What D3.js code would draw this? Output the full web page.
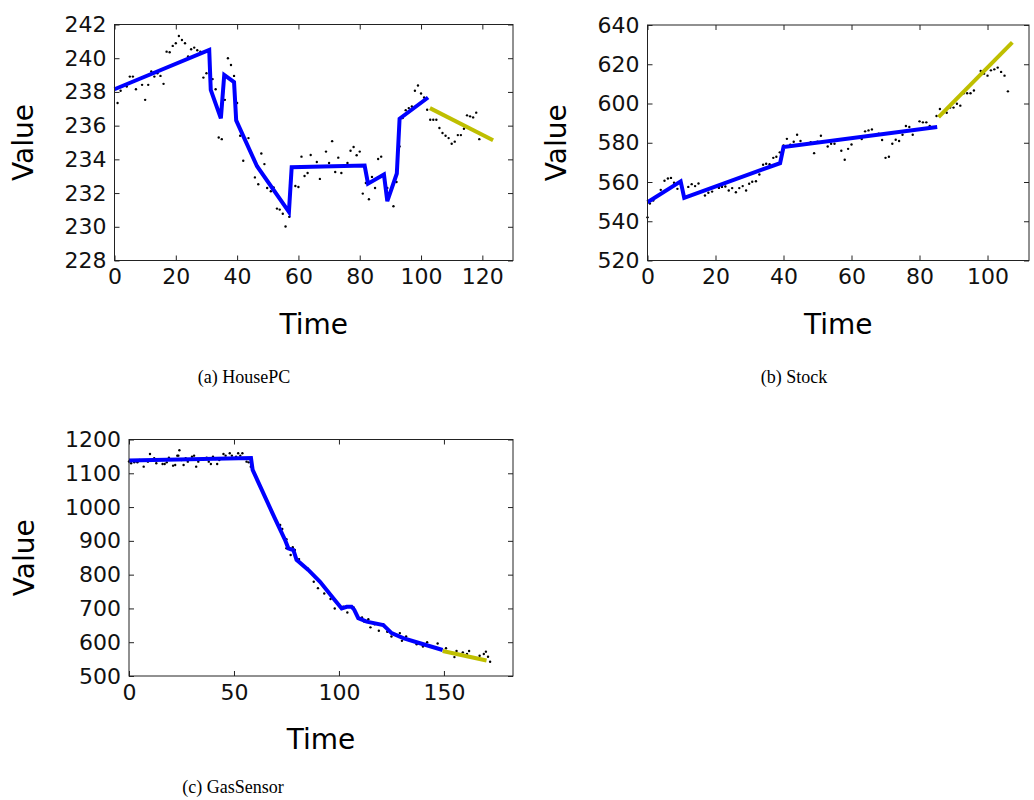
<!DOCTYPE html>
<head>
  <meta charset="utf-8">
  <script src="https://cdn.jsdelivr.net/npm/d3@7"></script>
  <style>
    body { margin:0; background:#fff; }
    .tick text { font-family: "DejaVu Sans", sans-serif; }
  </style>
</head>

<body>
  <script>
    // (a) HousePC
    const houseT = [1,2,4,5,6,7,9,10,11,12,13,14,15,16,17,18,19,20,21,22,23,24,25,26,27,28,29,30,31,32,33,34,35,36,37,38,39,40,41,42,42.6,43.7,45.8,46.9,47.9,48.9,49.8,51,51.9,53,53.9,54.9,55.8,57,59,60,61,62,63,64,66,67,69,70,71,72,73,74,76,77,78,79,80,81,82,83,84,85,86,87,89,91,92,93,94,95,96,97,98,99,100,101,102,103,104,105,106,107,108,109,110,111,112,113,114,115,116,117,118,119];
    const houseV = [237.34,238.07,238.32,238.91,238.91,238.16,238.42,237.53,238.42,239.21,238.91,239.11,238.95,238.48,240.39,240.35,240.73,240.89,241.32,241.08,240.89,240.10,240.53,240.63,240.47,240.39,238.85,239.11,239.27,238.76,238.16,235.30,235.20,237.53,240.0,239.60,238.95,237.34,235.40,233.92,235.26,235.26,232.93,232.52,234.35,233.72,232.30,232.11,232.34,231.08,231.02,230.77,230.02,230.59,232.42,232.36,234.16,233.01,233.19,234.26,233.84,232.84,234.46,233.78,235.08,233.25,234.10,233.19,233.78,234.51,234.73,234.24,234.46,231.97,232.60,231.63,232.96,232.30,234.02,234.16,232.30,231.22,232.66,234.77,236.45,236.92,237.04,237.14,238.07,238.38,237.91,237.67,236.94,236.35,236.35,236.35,235.86,235.56,235.40,235.26,234.93,235.05,235.44,235.44,235.82,236.61,236.55,236.49,236.77,235.20];
    const houseFitT = [0,30.9,31.4,34.7,35.8,39.0,39.7,46.5,56.9,57.8,81.6,82.7,87.9,89.0,92.1,93.0,102.3];
    const houseFitV = [238.16,240.49,238.12,236.43,239.01,238.58,236.31,233.59,230.88,233.53,233.63,232.56,233.1,231.52,233.16,236.41,237.67];
    const housePredT = [102.9,123.5];
    const housePredV = [237.04,235.13];
    const houseYTicks = [228,230,232,234,236,238,240,242];
    const houseXTicks = [0,20,40,60,80,100,120];

    // (b) Stock
    const stockT = [0,0.7,1.7,3.9,5,6,6.9,7.8,8.8,12,13,14,15,16,16.9,17.9,19,21,21.9,22.9,23.9,24.9,26,27,28,29,29.9,30.8,31.9,32.9,34,34.9,35.9,37,37.9,38.9,40,41,42,43,44,45,48,49,50,51,53,54,55,56,57,58,59,60,63,64,65,66,68,69,70,71,72,73,74,75,76,77,78,80,81,82,83,85,86,88,89,90,91,92,93,94,95,96,98,99,100,101,102,103,104,105,106];
    const stockV = [542.0,549.0,550.6,556.0,560.6,561.8,562.1,559.6,556.5,557.5,558.9,557.9,559.2,555.3,553.1,554.5,555.1,557.0,557.5,557.7,555.7,556.9,554.8,556.9,557.9,555.7,559.1,560.1,560.4,563.8,568.8,569.3,569.1,572.3,572.9,575.1,578.6,582.0,579.0,580.5,584.1,580.9,580.3,574.7,580.5,583.6,578.1,579.5,579.5,581.7,575.9,571.3,576.9,579.1,581.9,585.8,586.3,586.8,584.6,581.4,572.3,572.9,579.5,581.5,580.9,584.1,588.5,588.0,584.1,590.9,590.4,590.4,588.5,593.6,597.2,595.3,597.9,597.9,599.9,598.9,605.2,605.2,605.2,606.6,616.6,615.2,614.2,616.9,617.4,618.3,616.1,614.2,606.2];
    const stockFitT = [0,9.75,10.8,39.0,40.0,85.2];
    const stockFitV = [549.7,560.3,551.9,569.6,577.8,588.0];
    const stockPredT = [85.6,107.3];
    const stockPredV = [593.1,631.1];
    const stockYTicks = [520,540,560,580,600,620,640];
    const stockXTicks = [0,20,40,60,80,100];

    // (c) GasSensor
    const gasT = [0,1,2.5,4,5,7,9,10,12,13,15,16,17,18,19,21,22,23,23.5,24,25,26,27,28,30,31,32,33,35,37,38,39,40,41,42,43,45,46,48,49,51,52,53,54,56,57,58,64,68,72,73,75,75,77,78,79,81,85,88,90,93,96,98,102,104,105,107,111,112,114,115,117,119,121,123,125,129,130,132,137,140,142,147,151,152,154,155,156,159,161,162,167,169,170,171,172];
    const gasV = [1135,1129.5,1132.4,1132.4,1139.3,1119.6,1134.4,1157.1,1144.3,1129.5,1139.3,1127.5,1127.5,1132.4,1146.3,1122.6,1124.6,1152.2,1152.2,1168,1139.3,1124.6,1144.3,1134.4,1149.2,1152.2,1119.6,1134.4,1140,1146.3,1134.4,1127.5,1149.2,1142.3,1127.5,1139.3,1157.1,1152.2,1159.1,1152.2,1149.2,1159.1,1152.2,1159.1,1134.4,1132.4,1119.6,1040,985,947,935,905,878,858,881,873,846,819,779,760,744,728,700,705,688,705,703,673,661,668,644,653,634,653,631,617,627,604,617,594,587,600,596,582,570,566,556,574,570,565,574,560,565,572,557,542];
    const gasFitT = [0,58.1,58.9,68.7,74.3,75.9,78.3,79.8,85.4,91.0,97.3,101.3,103.7,106,107.3,109.2,113.2,121.1,121.9,125.1,130.6,138.6,149.4];
    const gasFitV = [1138,1145,1110,977,903,878,873,844,814,779,730,700,705,705,696,671,661,651,646,627,612,597,577];
    const gasPredT = [149.4,170.3];
    const gasPredV = [574,546];
    const gasYTicks = [500,600,700,800,900,1000,1100,1200];
    const gasXTicks = [0,50,100,150];

    const svg = d3.select("body").append("svg")
      .attr("width", 1034).attr("height", 800);

    const fmt = d3.format("d");

    function panel(o) {
      const x = d3.scaleLinear().domain(o.xDomain).range([o.left, o.right]);
      const y = d3.scaleLinear().domain(o.yDomain).range([o.bottom, o.top]);
      const g = svg.append("g");

      const ticks = [
        [d3.axisBottom(x).tickValues(o.xTicks).tickSize(-5).tickPadding(8).tickFormat(fmt), `translate(0,${o.bottom})`],
        [d3.axisTop(x).tickValues(o.xTicks).tickSize(-5).tickFormat(""), `translate(0,${o.top})`],
        [d3.axisLeft(y).tickValues(o.yTicks).tickSize(-5).tickPadding(8).tickFormat(fmt), `translate(${o.left},0)`],
        [d3.axisRight(y).tickValues(o.yTicks).tickSize(-5).tickFormat(""), `translate(${o.right},0)`]
      ];
      ticks.forEach(([ax, tr]) => {
        const a = g.append("g").attr("transform", tr).call(ax);
        a.select(".domain").remove();
        a.selectAll("line").attr("stroke", "#222");
        a.selectAll("text").attr("font-size", 22).attr("fill", "#111");
      });

      const line = d3.line().x(d => x(d[0])).y(d => y(d[1]));

      g.append("g").selectAll("circle")
        .data(d3.zip(o.t, o.v))
        .join("circle")
        .attr("cx", d => x(d[0])).attr("cy", d => y(d[1]))
        .attr("r", 1.2).attr("fill", "#000");

      g.append("path").datum(d3.zip(o.fitT, o.fitV))
        .attr("d", line).attr("fill", "none")
        .attr("stroke", "#0000ff").attr("stroke-width", 4).attr("stroke-linejoin", "miter");

      g.append("path").datum(d3.zip(o.predT, o.predV))
        .attr("d", line).attr("fill", "none")
        .attr("stroke", "#bfbf00").attr("stroke-width", 4);

      g.append("rect")
        .attr("x", o.left).attr("y", o.top)
        .attr("width", o.right - o.left).attr("height", o.bottom - o.top)
        .attr("fill", "none").attr("stroke", "#222").attr("stroke-width", 1);

      g.append("text")
        .attr("x", (o.left + o.right) / 2).attr("y", o.bottom + 73)
        .attr("text-anchor", "middle")
        .attr("font-family", "DejaVu Sans").attr("font-size", 28)
        .text("Time");

      g.append("text")
        .attr("transform", `translate(${o.labelX},${(o.top + o.bottom) / 2}) rotate(-90)`)
        .attr("text-anchor", "middle")
        .attr("font-family", "DejaVu Sans").attr("font-size", 28)
        .text("Value");

      g.append("text")
        .attr("x", o.capX).attr("y", o.capY)
        .attr("text-anchor", "middle")
        .attr("font-family", "Liberation Serif").attr("font-size", 18)
        .text(o.caption);
    }

    panel({
      t: houseT, v: houseV, fitT: houseFitT, fitV: houseFitV, predT: housePredT, predV: housePredV,
      xTicks: houseXTicks, yTicks: houseYTicks, xDomain: [0, 130], yDomain: [228, 242],
      left: 114.5, right: 513, top: 24.5, bottom: 260.5, labelX: 33,
      caption: "(a)  HousePC", capX: 244, capY: 383
    });

    panel({
      t: stockT, v: stockV, fitT: stockFitT, fitV: stockFitV, predT: stockPredT, predV: stockPredV,
      xTicks: stockXTicks, yTicks: stockYTicks, xDomain: [0, 112.2], yDomain: [520, 640],
      left: 647.5, right: 1029, top: 25, bottom: 260.5, labelX: 566,
      caption: "(b)  Stock", capX: 794, capY: 383
    });

    panel({
      t: gasT, v: gasV, fitT: gasFitT, fitV: gasFitV, predT: gasPredT, predV: gasPredV,
      xTicks: gasXTicks, yTicks: gasYTicks, xDomain: [0, 182.9], yDomain: [500, 1200],
      left: 129, right: 513, top: 439.5, bottom: 676, labelX: 34,
      caption: "(c)  GasSensor", capX: 233, capY: 793
    });
  </script>
</body>
